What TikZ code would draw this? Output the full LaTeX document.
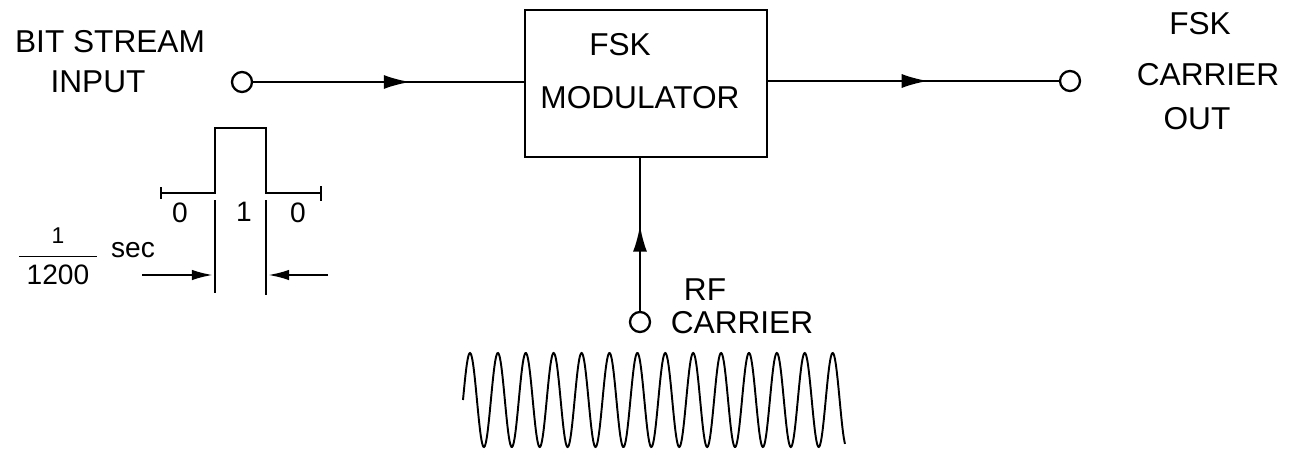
\documentclass[tikz,border=0pt]{standalone}
\usepackage{fontspec}
\setmainfont{Liberation Sans}
\usetikzlibrary{arrows.meta,decorations.markings}

\begin{document}
\begin{tikzpicture}[x=0.02cm, y=-0.02cm,
    wire/.style={line width=1.3pt},
    box/.style={draw, line width=1.3pt, minimum width=4.84cm, minimum height=2.94cm},
    term/.style={draw, circle, line width=1.3pt, minimum size=0.4cm, inner sep=0pt},
    lbl/.style={font=\fontsize{18}{20}\selectfont, inner sep=0pt},
    small/.style={font=\fontsize{16}{18}\selectfont, inner sep=0pt},
    midarrow/.style={postaction={decorate}, decoration={markings,
        mark=at position #1 with {\arrow{Latex[length=15pt,width=8pt]}}}},
  ]
    \useasboundingbox (0,0) rectangle (1292,456);

    % modulator block and terminals
    \node[box] (mod) at (646,83.5) {};
    \node[lbl] (fsk)    at (620,45) {FSK};
    \node[lbl] (modtxt) at (640,98) {MODULATOR};
    \node[term] (in)  at (242,82)  {};
    \node[term] (out) at (1070,81) {};
    \node[term] (rf)  at (640,322) {};

    \node[lbl] (bits)  at (110,42) {BIT STREAM};
    \node[lbl] (input) at (98,82)  {INPUT};
    \node[lbl] (ofsk)  at (1200,24)  {FSK};
    \node[lbl] (ocar)  at (1208,75)  {CARRIER};
    \node[lbl] (oout)  at (1197,119) {OUT};
    \node[lbl] (rftxt) at (705,290) {RF};
    \node[lbl] (rfcar) at (742,323) {CARRIER};

    \draw[wire, midarrow=0.58] (in.east) -- (in.east -| mod.west);
    \draw[wire, midarrow=0.55] (out.west -| mod.east) -- (out.west);
    \draw[wire, midarrow=0.56] (rf.north) -- (rf |- mod.south);

    % one bit of the input stream
    \draw[wire] (161,193) -- (215,193) -- (215,128) -- (266,128) -- (266,193) -- (321,193);
    \draw[wire] (161,187) -- (161,199);
    \draw[wire] (321,186) -- (321,201);
    \draw[wire] (215,200) -- (215,293);
    \draw[wire] (266,200) -- (266,295);
    \node[small] (b0) at (180,213) {0};
    \node[small] (b1) at (244,212) {1};
    \node[small] (b2) at (298,213) {0};

    \coordinate (lmark) at (213,275);
    \coordinate (rmark) at (268,275);
    \coordinate (lstart) at (142,275);
    \coordinate (rstart) at (328,275);
    \draw[wire, -{Latex[length=12pt,width=6pt]}] (lstart) -- (lmark);
    \draw[wire, -{Latex[length=12pt,width=6pt]}] (rstart) -- (rmark);
    \node[small] (frac) at (58,256) {$\displaystyle\frac{\mbox{\fontsize{13}{15}\selectfont 1}}{\mbox{\;1200\;}}$};
    \node[small] (sec)  at (133,250) {sec};

    % rf carrier
    \draw[line width=1.1pt, smooth, domain=463:845, samples=600]
      plot (\x, {400-47*sin(((\x-463)/27.9)*360)});
  \end{tikzpicture}
\end{document}
